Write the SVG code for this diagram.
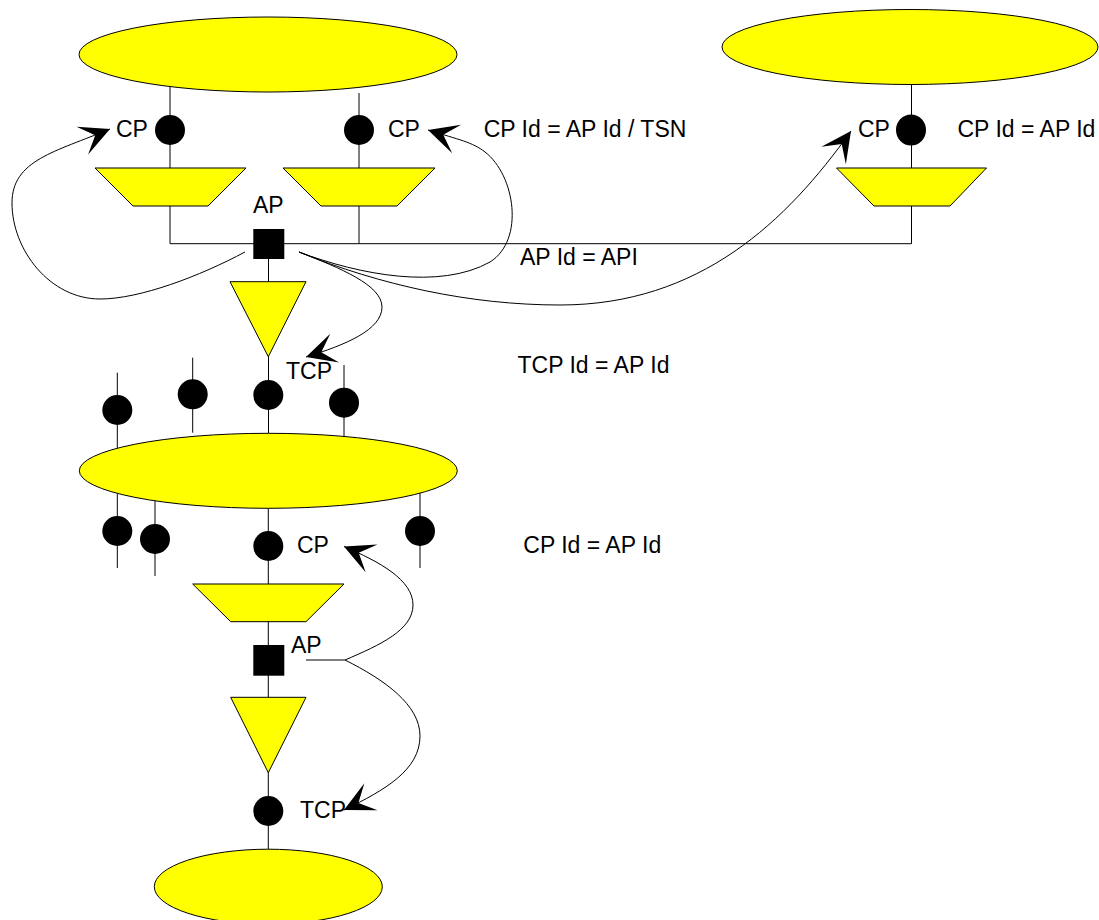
<svg xmlns="http://www.w3.org/2000/svg" width="1099" height="920" viewBox="0 0 1099 920">
<style>
.ln{stroke:#000;stroke-width:1;fill:none}
.cv{stroke:#000;stroke-width:1;fill:none;marker-end:url(#ah)}
.yl{fill:#ffff00;stroke:#000;stroke-width:1}
.dot{fill:#000;stroke:none}
text{font-family:"Liberation Sans",Arial,sans-serif;font-size:23px;fill:#000}
</style>
<defs>
<marker id="ah" markerUnits="userSpaceOnUse" orient="auto" markerWidth="40" markerHeight="40" refX="0" refY="0" style="overflow:visible">
<path d="M0,0 L-30,-15 L-16,0 L-30,15 Z" fill="#000"/>
</marker>
</defs>
<rect width="1099" height="920" fill="#fff"/>
<g id="connectors">
<path class="ln" d="M170,86.6 V243.7 H911.5 M359,93 V243.7 M911.5,84 V243.7"/>
<path class="ln" d="M268.5,259 V433.3 M268.3,508.3 V849.3"/>
<path class="ln" d="M117.3,372.7 V448 M192.7,357.7 V432.7 M344,365 V440"/>
<path class="ln" d="M117.3,493.6 V568 M155,501 V576 M420,493 V568"/>
<path class="ln" d="M306,660 H345"/>
<path class="cv" d="M245,252 C200,276 140,299 100,299 C50,299 12,250 12,203 C12,160 55,152 110,129"/>
<path class="cv" d="M299,252 C360,275 440,290 490,262 C525,240 515,175 485,152 C472,142 460,140 428,130"/>
<path class="cv" d="M299,252 C380,285 470,305 560,305 C700,305 787,221 851,131"/>
<path class="cv" d="M299,252 C340,268 382,285 382,307 C382,330 345,345 306,357"/>
<path class="cv" d="M345,660 C380,645 413,630 413,605 C413,580 380,562 344,546.5"/>
<path class="cv" d="M345,660 C385,680 420,705 420,736 C420,770 385,790 344,810"/>
</g>
<g id="network-top-left"><ellipse class="yl" cx="268" cy="54.5" rx="189" ry="37.5"/></g>
<g id="network-top-right"><ellipse class="yl" cx="910" cy="47" rx="188" ry="37.5"/></g>
<g id="network-middle"><ellipse class="yl" cx="268.3" cy="470.8" rx="189" ry="37.5"/></g>
<g id="network-bottom"><ellipse class="yl" cx="268.3" cy="886.7" rx="114" ry="37.5"/></g>
<g id="adapt-1"><polygon class="yl" points="95,168 246,168 208,206 133,206"/></g>
<g id="adapt-2"><polygon class="yl" points="283,168 435,168 397,206 321,206"/></g>
<g id="adapt-3"><polygon class="yl" points="836.5,168 986.5,168 950,206 874,206"/></g>
<g id="adapt-4"><polygon class="yl" points="192.7,584 344,584 306,621.7 230.7,621.7"/></g>
<g id="trail-1"><polygon class="yl" points="230,281.7 306,281.7 268.3,356.7"/></g>
<g id="trail-2"><polygon class="yl" points="230.7,697.3 306,697.3 268.3,772.7"/></g>
<g id="ap-1"><rect class="dot" x="253.3" y="229" width="31" height="30"/><text x="253" y="213">AP</text></g>
<g id="ap-2"><rect class="dot" x="253.3" y="645" width="31" height="30.7"/><text x="291" y="652.7">AP</text></g>
<g id="cp-1"><circle class="dot" cx="170" cy="130" r="15"/><text x="116" y="137">CP</text></g>
<g id="cp-2"><circle class="dot" cx="359" cy="130" r="15"/><text x="388" y="137">CP</text></g>
<g id="cp-3"><ellipse class="dot" cx="911" cy="130" rx="15" ry="15.5"/><text x="858" y="137">CP</text></g>
<g id="tcp-1"><circle class="dot" cx="268.3" cy="395" r="15"/><text x="286" y="379.3">TCP</text></g>
<g id="pin-1"><circle class="dot" cx="117.3" cy="410" r="15"/></g>
<g id="pin-2"><circle class="dot" cx="192.7" cy="394.3" r="15"/></g>
<g id="pin-3"><circle class="dot" cx="344" cy="402.7" r="15"/></g>
<g id="pin-4"><circle class="dot" cx="117.3" cy="531" r="15"/></g>
<g id="pin-5"><circle class="dot" cx="155" cy="539" r="15"/></g>
<g id="pin-6"><circle class="dot" cx="420" cy="531" r="15"/></g>
<g id="cp-4"><circle class="dot" cx="268.3" cy="546" r="15"/><text x="297" y="552.7">CP</text></g>
<g id="tcp-2"><circle class="dot" cx="268.3" cy="811" r="15"/><text x="300" y="818.3">TCP</text></g>
<g id="labels">
<text x="483.7" y="137">CP Id = AP Id / TSN</text>
<text x="957.5" y="137">CP Id = AP Id</text>
<text x="520" y="265">AP Id = API</text>
<text x="517.5" y="372.7">TCP Id = AP Id</text>
<text x="523.3" y="552.7">CP Id = AP Id</text>
</g>
</svg>
